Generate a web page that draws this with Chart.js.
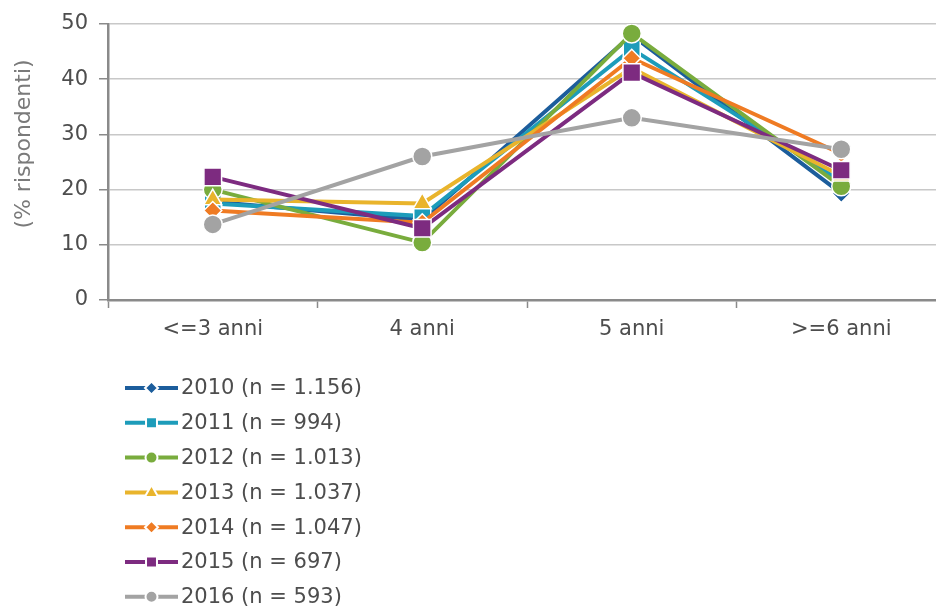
<!DOCTYPE html>
<html lang="it">
<head>
<meta charset="utf-8">
<title>Durata degli studi (% rispondenti)</title>
<script src="https://cdn.jsdelivr.net/npm/chart.js@4/dist/chart.umd.min.js"></script>
<style>
  html, body { margin: 0; padding: 0; background: #ffffff; overflow: hidden; }
  #wrap { width: 960px; height: 609px; }
</style>
</head>
<body>
<div id="wrap"><canvas id="c" width="960" height="609"></canvas></div>
<script>
// Categorie (durata) e quote di rispondenti per anno di indagine
const categories = ['<=3 anni', '4 anni', '5 anni', '>=6 anni'];
const seriesLabels = ['2010 (n = 1.156)', '2011 (n = 994)', '2012 (n = 1.013)', '2013 (n = 1.037)',
                      '2014 (n = 1.047)', '2015 (n = 697)', '2016 (n = 593)'];
const v2010 = [17.8, 14.5, 48.0, 19.3];
const v2011 = [17.5, 15.2, 45.5, 21.5];
const v2012 = [20.0, 10.4, 48.3, 20.6];
const v2013 = [18.2, 17.5, 42.0, 22.5];
const v2014 = [16.2, 14.0, 43.8, 26.5];
const v2015 = [22.3, 13.0, 41.2, 23.5];
const v2016 = [13.7, 26.0, 33.0, 27.3];
const yTicks = [0, 10, 20, 30, 40, 50];
const yTitle = '(% rispondenti)';

const values = [v2010, v2011, v2012, v2013, v2014, v2015, v2016];
const colors = ['#1c5d9c', '#1d9cba', '#79ac3d', '#e9b42c', '#ef7b23', '#7d2b80', '#a3a3a3'];
const styles = ['rectRot', 'rect', 'circle', 'triangle', 'rectRot', 'rect', 'circle'];
const radii  = [9, 12, 9.5, 10.5, 9, 12.5, 9.5];
const legendRadii = [6.5, 7.3, 6, 7.5, 6.5, 7.3, 6];

const FONT = 'DejaVu Sans';
const TEXT = '#4d4d4d';
const AXIS = '#8a8a8a';

const datasets = values.map((vals, i) => ({
  label: seriesLabels[i],
  data: vals,
  borderColor: colors[i],
  backgroundColor: colors[i],
  borderWidth: 4,
  tension: 0,
  pointStyle: styles[i],
  pointRadius: radii[i],
  pointHoverRadius: radii[i],
  pointBackgroundColor: colors[i],
  pointBorderColor: '#ffffff',
  pointBorderWidth: 1.5,
  order: values.length - i   // later years drawn on top
}));

// simple marker shapes for the legend rows
function marker(ctx, style, x, y, r) {
  ctx.beginPath();
  if (style === 'circle') {
    ctx.arc(x, y, r, 0, Math.PI * 2);
  } else if (style === 'rect') {
    ctx.rect(x - r * 0.75, y - r * 0.75, r * 1.5, r * 1.5);
  } else if (style === 'rectRot') {
    ctx.moveTo(x, y - r); ctx.lineTo(x + r, y); ctx.lineTo(x, y + r); ctx.lineTo(x - r, y);
    ctx.closePath();
  } else if (style === 'triangle') {
    ctx.moveTo(x, y - r); ctx.lineTo(x + r * 0.9, y + r * 0.6); ctx.lineTo(x - r * 0.9, y + r * 0.6);
    ctx.closePath();
  }
  ctx.fill();
  ctx.stroke();
}

const extras = {
  id: 'extras',
  afterDraw(chart) {
    const ctx = chart.ctx;
    // y-axis title
    ctx.save();
    ctx.translate(24, 144);
    ctx.rotate(-Math.PI / 2);
    ctx.font = '22px "' + FONT + '"';
    ctx.fillStyle = '#7a7a7a';
    ctx.textAlign = 'center';
    ctx.textBaseline = 'middle';
    ctx.fillText(yTitle, 0, 0);
    ctx.restore();

    // vertical legend: line sample with marker, then label
    ctx.save();
    chart.data.datasets.forEach((ds, i) => {
      const y = 388 + i * 34.8;
      ctx.strokeStyle = ds.borderColor;
      ctx.lineWidth = 4;
      ctx.lineCap = 'butt';
      ctx.beginPath();
      ctx.moveTo(125, y);
      ctx.lineTo(178, y);
      ctx.stroke();
      ctx.fillStyle = ds.borderColor;
      ctx.strokeStyle = '#ffffff';
      ctx.lineWidth = 2;
      marker(ctx, styles[i], 151.5, y, legendRadii[i]);
      ctx.font = '21px "' + FONT + '"';
      ctx.fillStyle = TEXT;
      ctx.textAlign = 'left';
      ctx.textBaseline = 'middle';
      ctx.fillText(ds.label, 181, y + 1);
    });
    ctx.restore();
  }
};

new Chart(document.getElementById('c'), {
  type: 'line',
  data: { labels: categories, datasets },
  plugins: [extras],
  options: {
    responsive: false,
    animation: false,
    devicePixelRatio: 1,
    layout: { padding: { left: 0, right: 13, top: 24, bottom: 0 } },
    plugins: {
      legend: { display: false },
      tooltip: { enabled: false }
    },
    scales: {
      x: {
        type: 'category',
        offset: true,
        afterFit(scale) { scale.height = 309; },
        grid: {
          offset: true,
          drawOnChartArea: false,
          drawTicks: true,
          tickLength: 8,
          tickColor: AXIS,
          tickWidth: 1.5
        },
        border: { display: true, color: AXIS, width: 2.5 },
        ticks: {
          color: TEXT,
          padding: 9,
          maxRotation: 0,
          font: { family: FONT, size: 21 }
        }
      },
      y: {
        min: 0,
        max: 50,
        afterFit(scale) { scale.width = 108; },
        afterBuildTicks(scale) { scale.ticks = yTicks.map(v => ({ value: v })); },
        grid: {
          color: '#c8c8c8',
          lineWidth: 1.5,
          drawTicks: true,
          tickLength: 9,
          tickColor: AXIS,
          tickWidth: 1.5
        },
        border: { display: true, color: AXIS, width: 2.5 },
        ticks: {
          color: TEXT,
          padding: 11,
          font: { family: FONT, size: 21 }
        }
      }
    }
  }
});
</script>
</body>
</html>
